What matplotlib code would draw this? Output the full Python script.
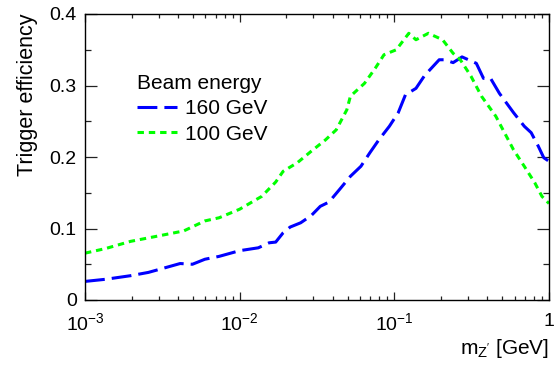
import matplotlib
matplotlib.use("Agg")
import matplotlib.pyplot as plt
from matplotlib.ticker import LogLocator, MultipleLocator, FixedLocator, FixedFormatter

plt.rcParams['font.family'] = ['Liberation Sans', 'DejaVu Sans']
plt.rcParams['mathtext.fontset'] = 'custom'
plt.rcParams['mathtext.rm'] = 'Liberation Sans'
plt.rcParams['mathtext.it'] = 'Liberation Sans'

# 160 GeV beam
m_160 = [0.001, 0.00136, 0.00197, 0.00257, 0.00316, 0.00412, 0.00495, 0.00596,
         0.00736, 0.010, 0.0132, 0.0155, 0.0171, 0.0191, 0.0212, 0.0248, 0.0290,
         0.0332, 0.0378, 0.0444, 0.0520, 0.0608, 0.0695, 0.0794, 0.0929, 0.106,
         0.118, 0.138, 0.157, 0.195, 0.210, 0.240, 0.274, 0.339, 0.377, 0.419,
         0.478, 0.590, 0.692, 0.767, 0.853, 0.925, 1.0]
eff_160 = [0.026, 0.029, 0.034, 0.0386, 0.044, 0.051, 0.050, 0.057,
           0.061, 0.069, 0.073, 0.080, 0.081, 0.094, 0.102, 0.108, 0.118,
           0.131, 0.137, 0.155, 0.173, 0.187, 0.206, 0.224, 0.243, 0.262,
           0.287, 0.296, 0.314, 0.336, 0.336, 0.332, 0.340, 0.331, 0.310, 0.310,
           0.289, 0.262, 0.243, 0.234, 0.215, 0.199, 0.194]

# 100 GeV beam
m_100 = [0.001, 0.00136, 0.00197, 0.0030, 0.00435, 0.00596, 0.00736, 0.010,
         0.0139, 0.0171, 0.0191, 0.0236, 0.0290, 0.0359, 0.0421, 0.0493, 0.0520,
         0.0641, 0.0752, 0.0857, 0.103, 0.124, 0.138, 0.166, 0.205, 0.240,
         0.267, 0.313, 0.366, 0.453, 0.504, 0.590, 0.692, 0.809, 0.900, 1.0]
eff_100 = [0.0655, 0.072, 0.082, 0.0897, 0.0966, 0.1106, 0.115, 0.127,
           0.145, 0.165, 0.180, 0.192, 0.208, 0.224, 0.238, 0.266, 0.285,
           0.303, 0.324, 0.343, 0.350, 0.373, 0.364, 0.373, 0.364, 0.345,
           0.336, 0.313, 0.285, 0.257, 0.238, 0.210, 0.187, 0.164, 0.145, 0.135]

x_ticks = [0.001, 0.01, 0.1, 1]
x_labels = [r'$10^{-3}$', r'$10^{-2}$', r'$10^{-1}$', '1']
y_ticks = [0, 0.1, 0.2, 0.3, 0.4]
y_labels = ['0', '0.1', '0.2', '0.3', '0.4']

fig = plt.figure(figsize=(5.55, 3.65), dpi=100)
ax = fig.add_axes([85/555, 65/365, 464/555, 286/365])

ax.plot(m_160, eff_160, color='#0000ff', lw=2.2, dashes=(6.5, 2.3), label='160 GeV')
ax.plot(m_100, eff_100, color='#00ff00', lw=2.2, dashes=(2.1, 1.6), label='100 GeV')

ax.set_xscale('log')
ax.set_xlim(0.001, 1)
ax.set_ylim(0, 0.4)
ax.xaxis.set_major_locator(FixedLocator(x_ticks))
ax.xaxis.set_major_formatter(FixedFormatter(x_labels))
ax.xaxis.set_minor_locator(LogLocator(base=10, subs=range(2, 10), numticks=20))
ax.xaxis.set_minor_formatter(FixedFormatter([]))
ax.yaxis.set_minor_locator(MultipleLocator(0.05))
ax.set_yticks(y_ticks)
ax.set_yticklabels(y_labels)

ax.tick_params(which='both', direction='in', top=True, right=True, labelsize=14,
               color='#222222', width=0.9)
ax.tick_params(axis='y', which='major', length=8.6, pad=6)
ax.tick_params(axis='y', which='minor', length=4.3)
ax.tick_params(axis='x', which='major', length=5.8, pad=9)
ax.tick_params(axis='x', which='minor', length=2.9)
for s in ax.spines.values():
    s.set_linewidth(1.0)

ax.set_ylabel('Trigger efficiency', fontsize=15.5, loc='top', labelpad=8)
ax.set_xlabel("m$_{\\mathrm{Z'}}$ [GeV]", fontsize=15, loc='right', labelpad=2)

leg = ax.legend(title='Beam energy', loc='upper left', bbox_to_anchor=(0.112, 0.79),
                frameon=False, fontsize=15, title_fontsize=15, handlelength=1.92,
                handletextpad=0.38, labelspacing=0.3, borderpad=0, borderaxespad=0)
leg._legend_box.align = 'left'

fig.savefig('out.png', dpi=100)
